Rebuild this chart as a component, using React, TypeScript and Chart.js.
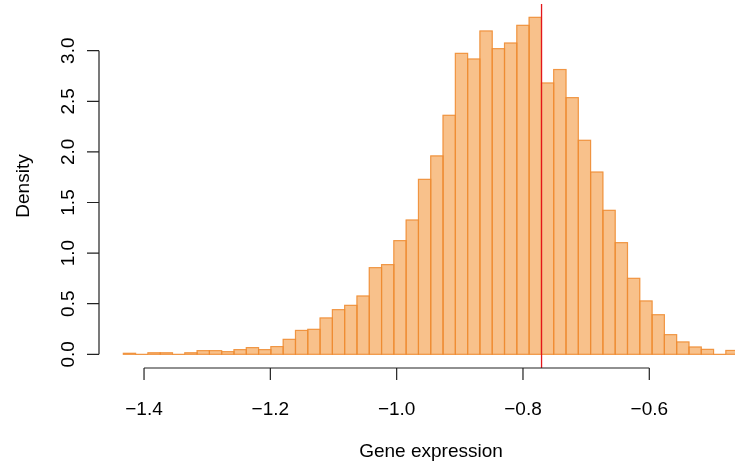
import { useEffect, useRef } from 'react';
import { Chart, registerables } from 'chart.js';

Chart.register(...registerables);

// Histogram breaks: first break and bin width (50 equal bins)
const BREAK_START = -1.4328;
const BIN_WIDTH = 0.01947;

// Density of each bin, left to right
const densities = [
  0.01, 0.0, 0.015, 0.015, 0.0, 0.015, 0.036, 0.036, 0.026, 0.046,
  0.066, 0.046, 0.076, 0.148, 0.236, 0.247, 0.359, 0.441, 0.484, 0.576,
  0.856, 0.886, 1.123, 1.327, 1.729, 1.96, 2.362, 2.974, 2.918, 3.195,
  3.02, 3.076, 3.251, 3.33, 2.681, 2.814, 2.536, 2.115, 1.801, 1.423,
  1.103, 0.751, 0.527, 0.391, 0.194, 0.122, 0.072, 0.049, 0.0, 0.038,
];

const xTickValues = [-1.4, -1.2, -1.0, -0.8, -0.6];
const xTickLabels = ['\u22121.4', '\u22121.2', '\u22121.0', '\u22120.8', '\u22120.6'];
const yTickValues = [0, 0.5, 1.0, 1.5, 2.0, 2.5, 3.0];
const yTickLabels = ['0.0', '0.5', '1.0', '1.5', '2.0', '2.5', '3.0'];

const markerValue = -0.7706;
const xTitle = 'Gene expression';
const yTitle = 'Density';

const X_MIN = -1.4713;
const X_MAX = -0.4643;
const Y_MIN = -0.1354;
const Y_MAX = 3.4615;

const BAR_FILL = 'rgba(242,142,43,0.55)';
const BAR_BORDER = 'rgba(238,140,50,0.85)';
const MARKER_COLOR = '#E3161B';
const FONT = '19px "Liberation Sans", Arial, Helvetica, sans-serif';

const rPlotPlugin = {
  id: 'rPlot',
  afterDatasetsDraw(chart: any) {
    const ctx = chart.ctx as CanvasRenderingContext2D;
    const xs = chart.scales.x;
    const ys = chart.scales.y;
    const area = chart.chartArea;

    ctx.save();
    // bar outlines (R style, centred on edges)
    ctx.beginPath();
    ctx.rect(area.left, area.top, area.right - area.left, area.bottom - area.top);
    ctx.clip();
    ctx.strokeStyle = BAR_BORDER;
    ctx.lineWidth = 1.2;
    const meta = chart.getDatasetMeta(0);
    meta.data.forEach((bar: any) => {
      const p = bar.getProps(['x', 'y', 'base', 'width'], true);
      const top = Math.min(p.y, p.base);
      ctx.strokeRect(p.x - p.width / 2, top, p.width, Math.abs(p.base - p.y));
    });
    ctx.restore();

    ctx.save();
    // marker line
    const mx = xs.getPixelForValue(markerValue);
    ctx.strokeStyle = MARKER_COLOR;
    ctx.lineWidth = 1.3;
    ctx.beginPath();
    ctx.moveTo(mx, area.top);
    ctx.lineTo(mx, area.bottom);
    ctx.stroke();

    // x axis
    ctx.strokeStyle = '#222';
    ctx.lineWidth = 1.2;
    const axY = area.bottom;
    const x0 = xs.getPixelForValue(xTickValues[0]);
    const x1 = xs.getPixelForValue(xTickValues[xTickValues.length - 1]);
    ctx.beginPath();
    ctx.moveTo(x0, axY);
    ctx.lineTo(x1, axY);
    xTickValues.forEach((v) => {
      const px = xs.getPixelForValue(v);
      ctx.moveTo(px, axY);
      ctx.lineTo(px, axY + 12);
    });
    ctx.stroke();

    // y axis
    const axX = area.left;
    const y0 = ys.getPixelForValue(yTickValues[0]);
    const y1 = ys.getPixelForValue(yTickValues[yTickValues.length - 1]);
    ctx.beginPath();
    ctx.moveTo(axX, y0);
    ctx.lineTo(axX, y1);
    yTickValues.forEach((v) => {
      const py = ys.getPixelForValue(v);
      ctx.moveTo(axX, py);
      ctx.lineTo(axX - 12, py);
    });
    ctx.stroke();

    // labels
    ctx.fillStyle = '#000';
    ctx.font = FONT;
    ctx.textAlign = 'center';
    ctx.textBaseline = 'alphabetic';
    xTickValues.forEach((v, i) => {
      ctx.fillText(xTickLabels[i], xs.getPixelForValue(v), axY + 47);
    });
    ctx.fillText(xTitle, area.left + 332, axY + 89);

    yTickValues.forEach((v, i) => {
      ctx.save();
      ctx.translate(axX - 25, ys.getPixelForValue(v));
      ctx.rotate(-Math.PI / 2);
      ctx.fillText(yTickLabels[i], 0, 0);
      ctx.restore();
    });
    ctx.save();
    ctx.translate(29, (area.top + area.bottom) / 2);
    ctx.rotate(-Math.PI / 2);
    ctx.fillText(yTitle, 0, 0);
    ctx.restore();

    ctx.restore();
  },
};

export default function App() {
  const canvasRef = useRef<HTMLCanvasElement | null>(null);

  useEffect(() => {
    if (!canvasRef.current) return;
    const data = densities.map((d, i) => ({ x: BREAK_START + BIN_WIDTH * (i + 0.5), y: d }));
    const chart = new Chart(canvasRef.current, {
      type: 'bar',
      data: {
        datasets: [
          {
            data: data as any,
            backgroundColor: BAR_FILL,
            borderWidth: 0,
            barPercentage: 1,
            categoryPercentage: 1,
          },
        ],
      },
      options: {
        animation: false,
        responsive: false,
        devicePixelRatio: 1,
        layout: { padding: { left: 99, right: 0, top: 4, bottom: 98 } },
        scales: {
          x: { type: 'linear', min: X_MIN, max: X_MAX, offset: false, display: false },
          y: { type: 'linear', min: Y_MIN, max: Y_MAX, display: false },
        },
        plugins: {
          legend: { display: false },
          tooltip: { enabled: false },
        },
      },
      plugins: [rPlotPlugin],
    });
    return () => chart.destroy();
  }, []);

  return (
    <div style={{ position: 'fixed', left: 0, top: 0, width: 735, height: 466, background: '#fff' }}>
      <canvas ref={canvasRef} width={735} height={466} style={{ display: 'block' }} />
    </div>
  );
}
